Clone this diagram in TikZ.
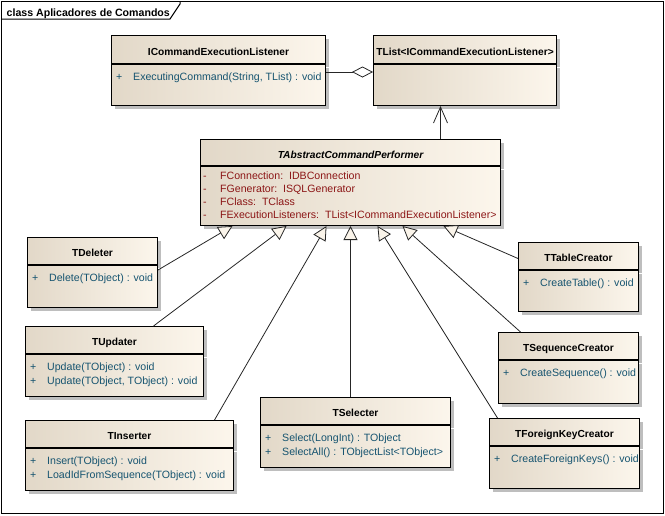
\documentclass[tikz,border=0pt]{standalone}
\usepackage{fontspec}
\setmainfont{Liberation Sans}
\usetikzlibrary{arrows.meta,shadows}

\definecolor{clsL}{RGB}{226,216,200}
\definecolor{clsR}{RGB}{252,246,236}
\definecolor{opcol}{RGB}{22,84,112}
\definecolor{attcol}{RGB}{140,22,22}
\definecolor{shadowgray}{RGB}{190,190,190}
\definecolor{trifill}{RGB}{250,244,234}

\newcommand{\pubm}[1]{\makebox[17pt][l]{+}#1}
\newcommand{\privm}[1]{\makebox[17pt][l]{-}#1}

\tikzset{
  classbox/.style={draw, line width=1pt, inner sep=0pt, anchor=north west,
    left color=clsL, right color=clsR,
    drop shadow={shadow xshift=3.5pt, shadow yshift=-3.5pt, fill=shadowgray, opacity=1}},
  classhead/.style={classbox, minimum height=27pt, align=center,
    text height=13pt, text depth=2pt, font=\fontsize{10.2}{12}\selectfont\bfseries},
  classbody/.style={classbox, minimum height=42pt},
  optext/.style={anchor=north west, inner sep=0pt, align=left, text=opcol,
    font=\fontsize{10.6}{14}\selectfont},
  atttext/.style={optext, text=attcol, font=\fontsize{10.6}{13}\selectfont},
  inherit/.style={draw=black!85, line width=0.8pt,
    -{Triangle[length=14pt, width=14pt, fill=trifill]}}
}

\begin{document}
\begin{tikzpicture}[x=1pt,y=-1pt]
    \useasboundingbox (0,0) rectangle (665,515);

    % frame
    \draw[line width=1pt] (1,1) rectangle (663.5,513.5);
    \draw[line width=1pt] (1,19) -- (170,19) -- (180,4) -- (180,1);
    \node[anchor=base west, inner sep=0pt, font=\fontsize{10.6}{12}\selectfont\bfseries] (title) at (6.5,16) {class Aplicadores de Comandos};

    % listener and list
    \node[classhead, minimum width=214pt, minimum height=28pt] (listener) at (111,35) {ICommandExecutionListener};
    \node[classbody, minimum width=214pt, minimum height=41pt] (listener-ops) at (listener.south west) {};
    \node[optext] (listener-txt) at ([xshift=5pt,yshift=-9pt]listener-ops.north west) {\pubm{ExecutingCommand(String, TList) : void}};

    \node[classhead, minimum width=183pt, minimum height=28pt] (tlist) at (373,35) {TList<ICommandExecutionListener>};
    \node[classbody, minimum width=183pt, minimum height=41pt] (tlist-ops) at (tlist.south west) {};

    % abstract performer
    \node[classhead, minimum width=300pt, minimum height=26pt, font=\fontsize{10.2}{12}\selectfont\bfseries\itshape] (tabs) at (200,139) {TAbstractCommandPerformer};
    \node[classbody, minimum width=300pt, minimum height=59pt] (tabs-ops) at (tabs.south west) {};
    \node[atttext] (tabs-txt) at ([xshift=3pt,yshift=-6pt]tabs-ops.north west) {\privm{FConnection:\ \ IDBConnection}\\\privm{FGenerator:\ \ ISQLGenerator}\\\privm{FClass:\ \ TClass}\\\privm{FExecutionListeners:\ \ TList<ICommandExecutionListener>}};

    % subclasses
    \node[classhead, minimum width=130pt] (deleter) at (27,237) {TDeleter};
    \node[classbody, minimum width=130pt] (deleter-ops) at (deleter.south west) {};
    \node[optext] (deleter-txt) at ([xshift=5pt,yshift=-9pt]deleter-ops.north west) {\pubm{Delete(TObject) : void}};

    \node[classhead, minimum width=178pt] (updater) at (25,326) {TUpdater};
    \node[classbody, minimum width=178pt] (updater-ops) at (updater.south west) {};
    \node[optext] (updater-txt) at ([xshift=5pt,yshift=-9pt]updater-ops.north west) {\pubm{Update(TObject) : void}\\\pubm{Update(TObject, TObject) : void}};

    \node[classhead, minimum width=208pt] (inserter) at (25,420) {TInserter};
    \node[classbody, minimum width=208pt] (inserter-ops) at (inserter.south west) {};
    \node[optext] (inserter-txt) at ([xshift=5pt,yshift=-9pt]inserter-ops.north west) {\pubm{Insert(TObject) : void}\\\pubm{LoadIdFromSequence(TObject) : void}};

    \node[classhead, minimum width=190pt] (selecter) at (260,397) {TSelecter};
    \node[classbody, minimum width=190pt] (selecter-ops) at (selecter.south west) {};
    \node[optext] (selecter-txt) at ([xshift=5pt,yshift=-9pt]selecter-ops.north west) {\pubm{Select(LongInt) : TObject}\\\pubm{SelectAll() : TObjectList<TObject>}};

    \node[classhead, minimum width=120pt] (tablecreator) at (518,242) {TTableCreator};
    \node[classbody, minimum width=120pt, minimum height=41pt] (tablecreator-ops) at (tablecreator.south west) {};
    \node[optext] (tablecreator-txt) at ([xshift=5pt,yshift=-9pt]tablecreator-ops.north west) {\pubm{CreateTable() : void}};

    \node[classhead, minimum width=140pt] (seqcreator) at (498,332) {TSequenceCreator};
    \node[classbody, minimum width=140pt, minimum height=43pt] (seqcreator-ops) at (seqcreator.south west) {};
    \node[optext] (seqcreator-txt) at ([xshift=5pt,yshift=-9pt]seqcreator-ops.north west) {\pubm{CreateSequence() : void}};

    \node[classhead, minimum width=150pt] (fkcreator) at (489,418) {TForeignKeyCreator};
    \node[classbody, minimum width=150pt] (fkcreator-ops) at (fkcreator.south west) {};
    \node[optext] (fkcreator-txt) at ([xshift=5pt,yshift=-9pt]fkcreator-ops.north west) {\pubm{CreateForeignKeys() : void}};

    % connectors
    \draw[draw=black!85, line width=0.8pt, -{Diamond[length=21pt, width=11pt, fill=white]}] ([yshift=-8pt]listener-ops.north east) -- ([yshift=-8pt]tlist-ops.north west);
    \draw[draw=black!85, line width=0.8pt, -{Straight Barb[length=16pt, width=14pt]}] ([xshift=90pt]tabs.north) -- ([xshift=90pt]tabs.north |- tlist-ops.south);

    \draw[inherit] ([yshift=-5pt]deleter-ops.north east) -- ([xshift=-118pt]tabs-ops.south);
    \draw[inherit] ([xshift=39pt]updater.north) -- ([xshift=-64pt]tabs-ops.south);
    \draw[inherit] ([xshift=85pt]inserter.north) -- ([xshift=-24pt]tabs-ops.south);
    \draw[inherit] (selecter.north -| tabs-ops.south) -- (tabs-ops.south);
    \draw[inherit] ([xshift=-67pt]fkcreator.north) -- ([xshift=27pt]tabs-ops.south);
    \draw[inherit] ([xshift=-48pt]seqcreator.north) -- ([xshift=52pt]tabs-ops.south);
    \draw[inherit] ([yshift=-2.5pt]tablecreator.west) -- ([xshift=93pt]tabs-ops.south);
\end{tikzpicture}
\end{document}
